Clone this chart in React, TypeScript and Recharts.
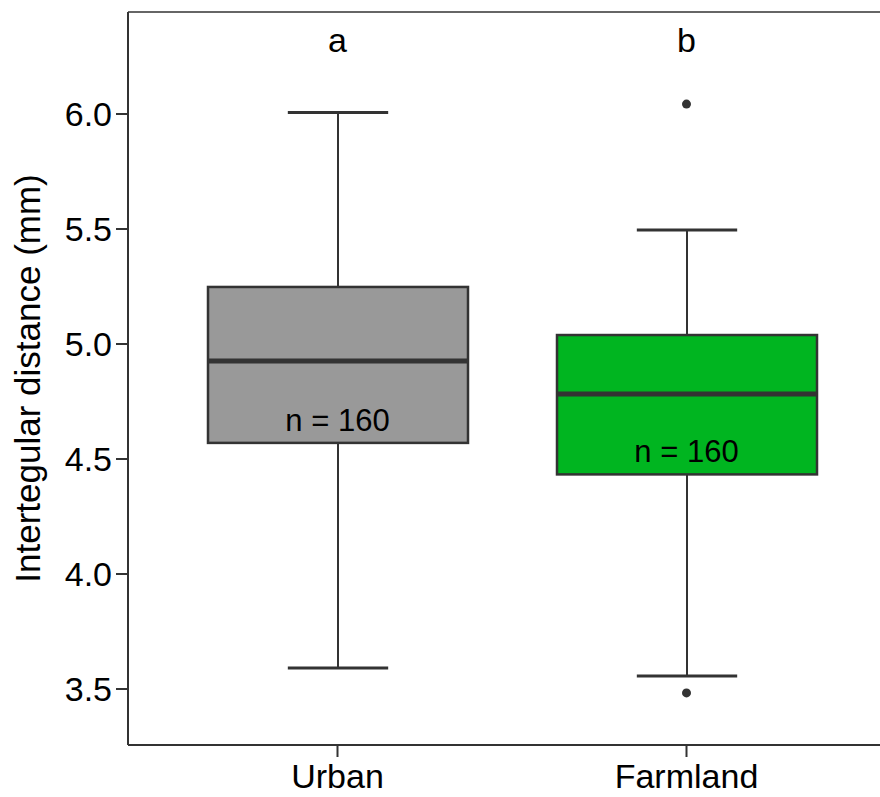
import React from "react";
import { Bar, ComposedChart, ReferenceDot, ReferenceLine, XAxis, YAxis } from "recharts";

const groups = ["Urban", "Farmland"];
const whiskerLow = [3.591, 3.557];
const lowerQuartile = [4.57, 4.433];
const medians = [4.926, 4.783];
const upperQuartile = [5.248, 5.039];
const whiskerHigh = [6.007, 5.496];
const sampleSizes = [160, 160];
const groupLetters = ["a", "b"];
const boxColors = ["#999999", "#00b520"];

const outlierGroups = ["Farmland", "Farmland"];
const outlierValues = [6.043, 3.483];

const yTicks = [3.5, 4.0, 4.5, 5.0, 5.5, 6.0];
const yDomain = [3.2565, 6.4435];

const FONT = "'Liberation Sans', Arial, Helvetica, sans-serif";
const INK = "#333333";

const rows = groups.map((g, i) => ({
  group: g,
  low: whiskerLow[i],
  q1: lowerQuartile[i],
  median: medians[i],
  q3: upperQuartile[i],
  high: whiskerHigh[i],
  fill: boxColors[i],
}));

// draws whisker, caps, box and median from the bar's pixel span (low..high)
function BoxShape(props: any) {
  const { x, y, width, height, payload } = props;
  const top = Math.min(y, y + height);
  const h = Math.abs(height);
  const { low, high, q1, q3, median, fill } = payload;
  const py = (v: number) => top + ((high - v) / (high - low)) * h;
  const cx = x + width / 2;
  const capHalf = width * 0.193;
  const yHigh = py(high);
  const yLow = py(low);
  const yQ3 = py(q3);
  const yQ1 = py(q1);
  const yMed = py(median);
  return (
    <g>
      <line x1={cx} x2={cx} y1={yHigh} y2={yLow} stroke={INK} strokeWidth={2} />
      <line x1={cx - capHalf} x2={cx + capHalf} y1={yHigh} y2={yHigh} stroke={INK} strokeWidth={3} />
      <line x1={cx - capHalf} x2={cx + capHalf} y1={yLow} y2={yLow} stroke={INK} strokeWidth={3} />
      <rect x={x} y={yQ3} width={width} height={yQ1 - yQ3} fill={fill} stroke={INK} strokeWidth={2.5} />
      <line x1={x} x2={x + width} y1={yMed} y2={yMed} stroke={INK} strokeWidth={5} />
    </g>
  );
}

export default function App() {
  return (
    <div style={{ position: "absolute", left: 0, top: 0, width: 880, height: 797, overflow: "hidden", background: "#fff" }}>
      <ComposedChart
        width={896}
        height={797}
        data={rows}
        margin={{ top: 12, right: 0, left: 0, bottom: 0 }}
        style={{ fontFamily: FONT }}
      >
        <XAxis
          dataKey="group"
          type="category"
          allowDuplicatedCategory={false}
          padding={{ left: 35, right: 35 }}
          height={52}
          tickSize={12}
          tickMargin={7}
          axisLine={{ stroke: INK, strokeWidth: 2 }}
          tickLine={{ stroke: INK, strokeWidth: 2 }}
          tick={{ fontSize: 34, fill: "#000", fontFamily: FONT }}
        />
        <YAxis
          type="number"
          domain={yDomain}
          ticks={yTicks}
          allowDataOverflow
          width={128}
          tickSize={12}
          tickMargin={4}
          tickFormatter={(v: number) => v.toFixed(1)}
          axisLine={{ stroke: INK, strokeWidth: 2 }}
          tickLine={{ stroke: INK, strokeWidth: 2 }}
          tick={{ fontSize: 34, fill: "#000", fontFamily: FONT }}
          label={{
            value: "Intertegular distance (mm)",
            angle: -90,
            position: "center",
            dx: -36,
            fontSize: 35,
            fill: "#000",
            fontFamily: FONT,
          }}
        />
        <ReferenceLine y={yDomain[1]} stroke="#666" strokeWidth={2} />
        <Bar
          dataKey={(d: any) => [d.low, d.high]}
          barSize={260}
          shape={<BoxShape />}
          isAnimationActive={false}
        />
        {outlierValues.map((v, i) => (
          <ReferenceDot key={"o" + i} x={outlierGroups[i]} y={v} r={4.5} fill={INK} stroke="none" />
        ))}
        {groups.map((g, i) => (
          <ReferenceDot
            key={"n" + i}
            x={g}
            y={lowerQuartile[i] + 0.1}
            r={0}
            stroke="none"
            fill="none"
            label={{ value: `n = ${sampleSizes[i]}`, position: "center", fontSize: 31, fill: "#000", fontFamily: FONT }}
          />
        ))}
        {groups.map((g, i) => (
          <ReferenceDot
            key={"l" + i}
            x={g}
            y={6.322}
            r={0}
            stroke="none"
            fill="none"
            label={{ value: groupLetters[i], position: "center", fontSize: 34, fill: "#000", fontFamily: FONT }}
          />
        ))}
      </ComposedChart>
    </div>
  );
}
